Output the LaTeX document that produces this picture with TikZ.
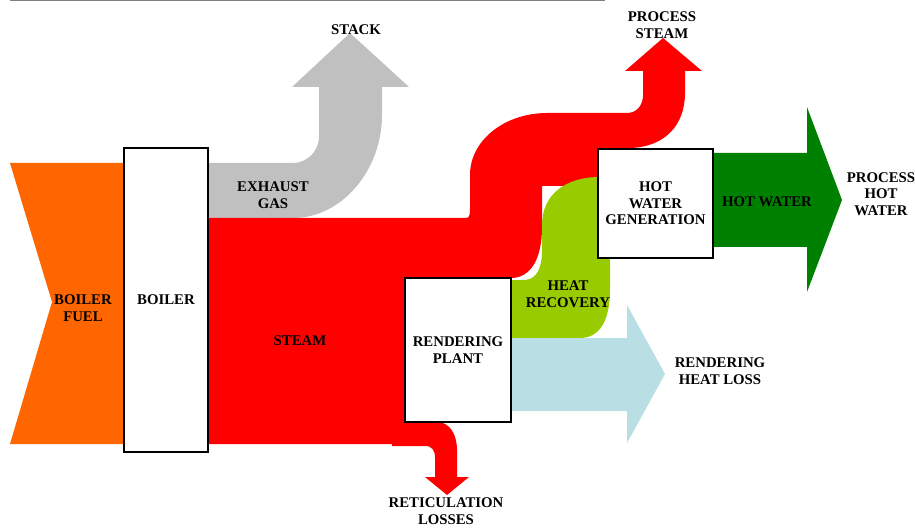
\documentclass[tikz,border=0pt]{standalone}
\usepackage{fontspec}
\setmainfont{Liberation Serif}
\usetikzlibrary{positioning}
\definecolor{fuelorange}{HTML}{FF6600}
\definecolor{gasgrey}{HTML}{C0C0C0}
\definecolor{steamred}{HTML}{FF0000}
\definecolor{recoverygreen}{HTML}{99CC00}
\definecolor{lossblue}{HTML}{B9DFE4}
\definecolor{watergreen}{HTML}{008000}
\newcommand{\lblfont}{\fontsize{14.8}{16.5}\selectfont\bfseries}
\tikzset{
  basic/.style = {draw, line width=1.5pt, fill=white, inner sep=0pt, align=center, font=\lblfont},
  plant/.style = {basic, rectangle},
  flow text/.style = {align=center, font=\lblfont, inner sep=0pt}
}

\begin{document}
\begin{tikzpicture}[x=1pt,y=-1pt]
\useasboundingbox (0,0) rectangle (915,529);
\draw[gray, line width=1.5pt] (10,0.75) -- (605,0.75);

% flows
\fill[fuelorange] (10,163) -- (130,163) -- (130,444) -- (10,444) -- (52,302) -- cycle;
\fill[gasgrey] (200,163) -- (293,163) .. controls (307,163) and (319,151) .. (319,137)
	-- (319,87) -- (292,87) -- (350,33) -- (409,87) -- (382,87) -- (382,115)
	.. controls (382,170) and (342,218) .. (293,218) -- (200,218) -- cycle;
\fill[steamred] (200,218) -- (466,218) .. controls (470,218) and (470,214) .. (470,205) -- (470,175)
	.. controls (470,140) and (505,113) .. (547,113) -- (627,113)
	.. controls (637,113) and (643,105) .. (643,95) -- (643,71) -- (625,71) -- (663,38)
	-- (702,71) -- (685,71) -- (685,93) .. controls (685,125) and (665,147) .. (630,148)
	-- (620,186) -- (542,186) -- (542,227) .. controls (542,260) and (530,278) .. (511,278)
	-- (450,300) -- (437,422) .. controls (450,422) and (457,435) .. (457,450)
	-- (457,477) -- (469,477) -- (447,495) -- (425,477) -- (435,477) -- (435,458)
	.. controls (435,450) and (432,446) .. (425,446) -- (392,446) -- (392,444) -- (200,444) -- cycle;
\fill[recoverygreen] (505,280) -- (525,280) .. controls (537,279) and (542,268) .. (542,250)
	-- (542,225) .. controls (542,195) and (565,177) .. (600,177) -- (610,200) -- (610,290)
	.. controls (610,320) and (600,338) .. (580,338) -- (505,338) -- cycle;
\fill[lossblue] (505,338) -- (627,338) -- (627,305) -- (665,374) -- (627,443) -- (627,411) -- (505,411) -- cycle;
\fill[watergreen] (708,153) -- (807,153) -- (807,107) -- (842,200) -- (807,292) -- (807,247) -- (708,247) -- cycle;

% plants
\node[plant, minimum width=84pt, minimum height=304pt] (boiler) at (166,300) {BOILER};
\node[plant, minimum width=106pt, minimum height=144pt] (rendering) at (458,350) {RENDERING\\PLANT};
\node[plant, minimum width=115pt, minimum height=109pt] (hwgen) at (655.5,203.5) {HOT\\WATER\\GENERATION};

% labels
\node[flow text] (fuel) at (83,308) {BOILER\\FUEL};
\node[flow text] (exhaust) at (273,195) {EXHAUST\\GAS};
\node[flow text] (stack) at (356,30) {STACK};
\node[flow text] (steam) at (300,341) {STEAM};
\node[flow text] (procsteam) at (662,25) {PROCESS\\STEAM};
\node[flow text] (recovery) at (568,294) {HEAT\\RECOVERY};
\node[flow text] (hotwater) at (767,202) {HOT WATER};
\node[flow text] (prochw) at (881,194) {PROCESS\\HOT\\WATER};
\node[flow text] (heatloss) at (720,371) {RENDERING\\HEAT LOSS};
\node[flow text] (reticulation) at (446,511) {RETICULATION\\LOSSES};
\end{tikzpicture}
\end{document}
